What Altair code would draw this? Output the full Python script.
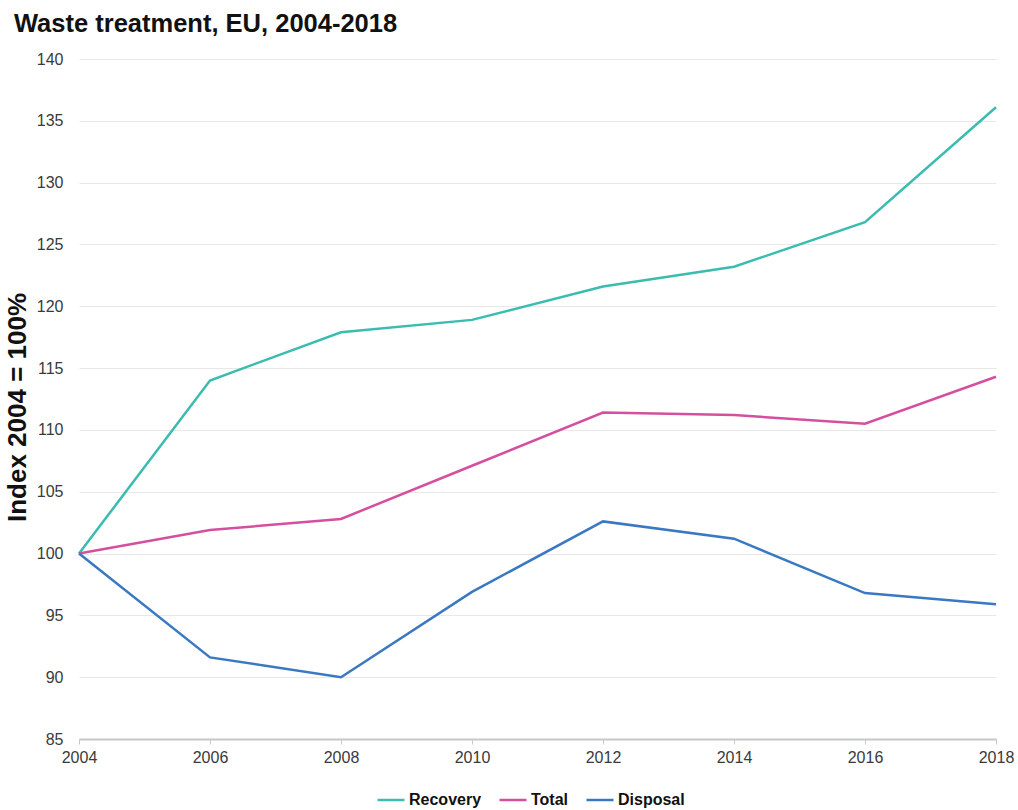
import altair as alt
import pandas as pd

# Index values (2004 = 100) for EU waste treatment
years = [2004, 2006, 2008, 2010, 2012, 2014, 2016, 2018]
recovery = [100.0, 114.0, 117.9, 118.9, 121.6, 123.2, 126.8, 136.1]
total = [100.0, 101.9, 102.8, 107.1, 111.4, 111.2, 110.5, 114.3]
disposal = [100.0, 91.6, 90.0, 96.9, 102.6, 101.2, 96.8, 95.9]

series_names = ["Recovery", "Total", "Disposal"]
series_colors = ["#3bbcb0", "#d4509f", "#3a78c2"]

rows = []
for name, vals in zip(series_names, [recovery, total, disposal]):
    for y, v in zip(years, vals):
        rows.append({"year": y, "value": v, "series": name})
df = pd.DataFrame(rows)

font = "Liberation Sans"

chart = (
    alt.Chart(df)
    .mark_line(strokeWidth=2.5)
    .encode(
        x=alt.X(
            "year:Q",
            scale=alt.Scale(domain=[2004, 2018], nice=False, zero=False),
            axis=alt.Axis(
                values=years,
                format="d",
                title=None,
                grid=False,
                labelFlush=False,
                domainColor="#c8c8c8",
                domainWidth=2,
                tickColor="#c8c8c8",
                tickSize=5,
                labelFontSize=16,
                labelColor="#3a3a3a",
                labelPadding=5,
                labelFont=font,
            ),
        ),
        y=alt.Y(
            "value:Q",
            scale=alt.Scale(domain=[85, 140], nice=False, zero=False),
            axis=alt.Axis(
                values=list(range(85, 141, 5)),
                title="Index 2004 = 100%",
                titleFontSize=26,
                titleFontWeight="bold",
                titleColor="#111111",
                titleFont=font,
                titlePadding=6,
                titleY=348,
                domain=False,
                ticks=False,
                grid=True,
                gridColor="#e8e8e8",
                gridWidth=1,
                labelFontSize=16,
                labelColor="#3a3a3a",
                labelPadding=16,
                labelFont=font,
            ),
        ),
        color=alt.Color(
            "series:N",
            scale=alt.Scale(domain=series_names, range=series_colors),
            sort=series_names,
            legend=alt.Legend(
                title=None,
                orient="none",
                legendX=297,
                legendY=726,
                direction="horizontal",
                symbolType="stroke",
                symbolSize=729,
                symbolStrokeWidth=2.5,
                labelFontSize=16,
                labelFontWeight="bold",
                labelColor="#111111",
                labelFont=font,
                labelOffset=3,
                columnPadding=12,
            ),
        ),
    )
    .properties(
        width=917,
        height=680,
        title=alt.TitleParams(
            "Waste treatment, EU, 2004-2018",
            anchor="start",
            frame="group",
            fontSize=25.5,
            fontWeight="bold",
            color="#111111",
            font=font,
            dx=-65,
            offset=14,
        ),
        autosize=alt.AutoSizeParams(type="none"),
        padding={"left": 79, "top": 59, "right": 22, "bottom": 71},
    )
    .configure_view(stroke=None)
)

chart.save("out.html", embed_options={"renderer": "svg", "actions": False})
